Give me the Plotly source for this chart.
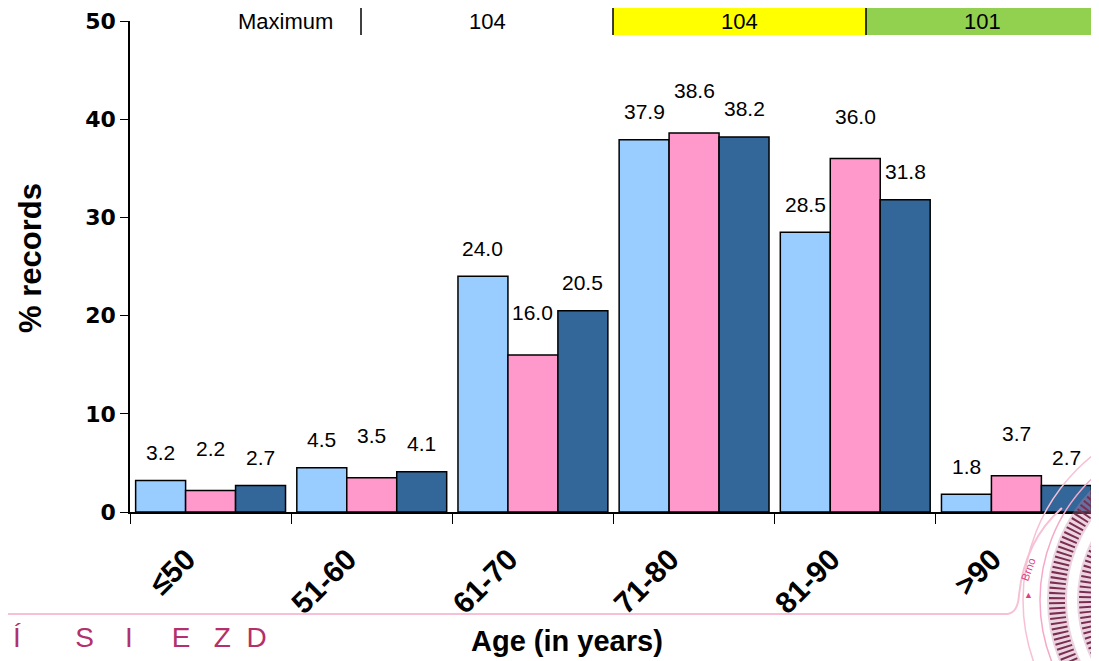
import plotly.graph_objects as go

age_groups = ['≤50', '51-60', '61-70', '71-80', '81-90', '>90']
series_a = [3.2, 4.5, 24.0, 37.9, 28.5, 1.8]
series_b = [2.2, 3.5, 16.0, 38.6, 36.0, 3.7]
series_c = [2.7, 4.1, 20.5, 38.2, 31.8, 2.7]
max_labels = ['Maximum', '104', '104', '101']

# the page has an 8px body margin, so the figure is drawn 8px in from the corner
OFF = 8
W, H = 1099 - OFF, 661 - OFF
L, R, T, B = 130 - OFF, 2, 21 - OFF, 149
PW, PH = W - L - R, H - T - B


def px(x):
    # page pixel x -> paper x
    return (x - OFF - L) / PW


def py(y):
    # page pixel y -> paper y
    return (H - B - (y - OFF)) / PH


def note(x, y, text, size, color='black', bold=False, angle=0, xanchor='center', family='Liberation Sans'):
    return dict(x=px(x), y=py(y), xref='paper', yref='paper', text=text, showarrow=False,
                xanchor=xanchor, yanchor='middle', textangle=angle,
                font=dict(family=family, size=size, color=color, weight='bold' if bold else 'normal'))


colors = ['#99CCFF', '#FF99CC', '#336699']
label_lift = [28, 42, 28]
fig = go.Figure()
annotations = []
for i, vals in enumerate([series_a, series_b, series_c]):
    fig.add_trace(go.Bar(x=age_groups, y=vals, marker_color=colors[i],
                         marker_line=dict(color='black', width=1.5)))
    for cat, v in zip(age_groups, vals):
        annotations.append(dict(x=cat, y=v, xref='x', yref='y', text=f'{v:.1f}',
                                showarrow=False, xshift=(i - 1) * 50, yshift=label_lift[i],
                                xanchor='center', yanchor='middle',
                                font=dict(family='Liberation Sans', size=21, color='black')))

# the table row at the top (cut off by the slide edge in the original)
cells = [(210, 361, None), (361, 613, None), (613, 866, '#FFFF00'), (866, 1110, '#92D050')]
centers = [285, 487, 739, 982]
shapes = []
for (x0, x1, fill), cx, txt in zip(cells, centers, max_labels):
    if fill:
        shapes.append(dict(type='rect', xref='paper', yref='paper', x0=px(x0), x1=px(x1),
                           y0=py(35), y1=py(-10), fillcolor=fill, line_width=0, layer='below'))
    annotations.append(note(cx, 21, txt, 22))
for xv in [361, 613, 866]:
    shapes.append(dict(type='line', xref='paper', yref='paper', x0=px(xv), x1=px(xv),
                       y0=py(35), y1=py(-10), line=dict(color='black', width=1.5)))

# axis titles
annotations.append(note(30, 258, '% records', 31, bold=True, angle=-90))
annotations.append(note(567, 641, 'Age (in years)', 29, bold=True))

# footer decoration
shapes.append(dict(type='line', xref='paper', yref='paper', x0=px(0), x1=px(1008),
                   y0=py(614), y1=py(614), line=dict(color='#F7C0D6', width=2)))
shapes.append(dict(type='path', xref='paper', yref='paper',
                   path=f'M {px(1008)},{py(614)} Q {px(1018)},{py(612)} {px(1019)},{py(595)} '
                        f'Q {px(1025)},{py(540)} {px(1062)},{py(508)}',
                   line=dict(color='#F7C0D6', width=2)))
cxl, cyl = 1208, 600
for r, col, w, d in [(168, '#F5A9C8', 1.5, 'solid'), (185, '#F7C0D6', 1.5, 'solid'),
                     (151, 'rgba(200,130,165,0.35)', 20, 'solid'), (151, '#7A2F52', 16, '2px,3px'),
                     (122, 'rgba(200,130,165,0.35)', 18, 'solid'), (122, '#7A2F52', 14, '2px,3px')]:
    shapes.append(dict(type='circle', xref='paper', yref='paper', x0=px(cxl - r), x1=px(cxl + r),
                       y0=py(cyl + r), y1=py(cyl - r), line=dict(color=col, width=w, dash=d)))
annotations.append(note(1028, 570, 'Brno', 11, color='#E0407F', angle=-70))
annotations.append(note(1028, 595, '▲', 9, color='#E0407F'))
annotations.append(note(11, 637, 'Í       S    I     E   Z  D', 28, color='#B3306C', xanchor='left'))

fig.update_layout(
    width=W, height=H,
    margin=dict(l=L, r=R, t=T, b=B),
    barmode='group', bargap=0.07, bargroupgap=0,
    showlegend=False,
    plot_bgcolor='white', paper_bgcolor='white',
    shapes=shapes, annotations=annotations,
)
fig.update_xaxes(showline=True, linecolor='black', linewidth=1.5, ticks='outside', ticklen=10,
                 tickson='boundaries', tickcolor='black', tickangle=-45, showgrid=False,
                 ticklabelstandoff=16, ticklabelshift=-24,
                 tickfont=dict(family='Liberation Sans', size=30, color='black', weight='bold'))
fig.update_yaxes(range=[0, 50], dtick=10, showline=True, linecolor='black', linewidth=1.5,
                 ticks='outside', ticklen=8, tickcolor='black', showgrid=False, zeroline=False,
                 tickfont=dict(family='DejaVu Sans', size=22, color='black', weight='bold'))
fig.write_html("out.html")
